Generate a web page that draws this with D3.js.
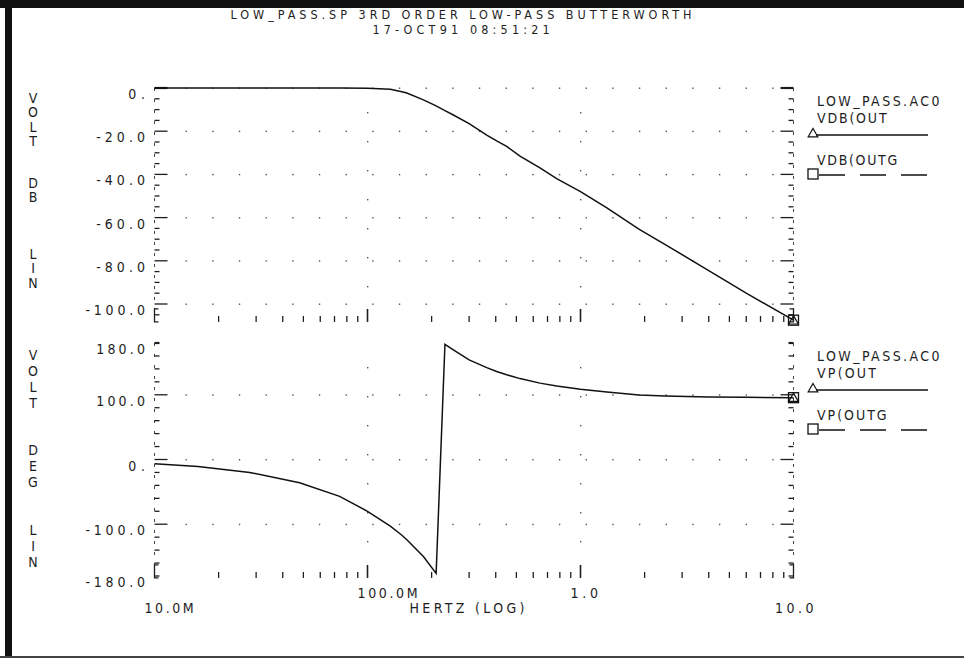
<!DOCTYPE html>
<html>
<head>
<meta charset="utf-8">
<script src="https://cdn.jsdelivr.net/npm/d3@7"></script>
<style>
	html, body { margin: 0; padding: 0; background: #fff; }
	#canvas { width: 964px; height: 658px; overflow: hidden; }
	text {
		font-family: 'Liberation Sans Narrow', 'DejaVu Sans Condensed', 'Roboto', sans-serif;
		font-size: 14px;
		fill: #1e1e1e;
	}
	text.title { font-size: 12.5px; }
</style>
</head>
<body>
<div id="canvas"></div>
<script>
// values (frequency in Hz, log axis)
const freqHz = [0.01, 0.016, 0.028, 0.048, 0.074, 0.1, 0.128, 0.145, 0.153, 0.183, 0.21, 0.231, 0.253, 0.3, 0.363, 0.404, 0.45, 0.52, 0.645, 0.773, 1.0, 1.33, 1.88, 2.5, 4.0, 6.0, 10.0];
const vdbOut = [0, 0, 0, 0, 0, -0.1, -0.6, -1.7, -2.3, -5.5, -8.3, -10.5, -12.5, -16.5, -21.8, -24.5, -27, -31.5, -37, -42, -48, -55.5, -65.3, -72.5, -84.5, -95, -107.5];
const vpOut = [-6.7, -11, -20, -36, -57, -80, -103, -117, -124, -150, -176, 178, 169.5, 154, 142, 136, 131, 125, 118, 113.6, 108.5, 104.3, 99.7, 98, 96.5, 96, 95.5];

const dbTicks = [0, -20, -40, -60, -80, -100];
const dbTickLabels = ['0.', '-20.0', '-40.0', '-60.0', '-80.0', '-100.0'];
const degTicks = [180, 100, 0, -100, -180];
const degTickLabels = ['180.0', '100.0', '0.', '-100.0', '-180.0'];
const freqTicks = [0.01, 0.1, 1, 10];
const freqTickLabels = ['10.0M', '100.0M', '1.0', '10.0'];

const titleLines = ['LOW_PASS.SP 3RD ORDER LOW-PASS BUTTERWORTH', '17-OCT91 08:51:21'];
const xTitle = 'HERTZ (LOG)';
const dbAxisWords = ['VOLT', 'DB', 'LIN'];
const degAxisWords = ['VOLT', 'DEG', 'LIN'];
const legendTitle = 'LOW_PASS.AC0';
const dbLegend = ['VDB(OUT', 'VDB(OUTG'];
const degLegend = ['VP(OUT', 'VP(OUTG'];

const chart = {
	width: 964,
	height: 658,
	x0: 154.5,
	x1: 793.5,
};

const x = d3.scaleLog().domain([0.01, 10]).range([chart.x0, chart.x1]);

const panels = [
	{
		key: 'db',
		y: d3.scaleLinear().domain([0, -100]).range([88, 304]),
		floor: -108.3,
		ticks: dbTicks,
		labels: dbTickLabels,
		minorStep: 5,
		values: vdbOut,
		words: dbAxisWords,
		wordPos: [98, 183, 254],
		wordPitch: 14.3,
		legend: dbLegend,
	},
	{
		key: 'deg',
		y: d3.scaleLinear().domain([180, -180]).range([343, 576]),
		floor: -183,
		ticks: degTicks,
		labels: degTickLabels,
		minorStep: 20,
		values: vpOut,
		words: degAxisWords,
		wordPos: [355, 450, 530],
		wordPitch: 16,
		legend: degLegend,
	},
];

// plotter style text: fixed character pitch
function pitched(sel, str, pitch) {
	sel.text(str)
		.attr('textLength', (str.length - 1) * pitch + 6)
		.attr('lengthAdjust', 'spacing')
		.attr('dy', '0.36em');
	return sel;
}

const svg = d3.select('#canvas').append('svg')
	.attr('width', chart.width)
	.attr('height', chart.height);

// page frame (scanned sheet edges)
svg.append('rect').attr('x', 0).attr('y', 0).attr('width', chart.width).attr('height', 8).attr('fill', '#111');
svg.append('rect').attr('x', 5).attr('y', 0).attr('width', 7).attr('height', chart.height).attr('fill', '#111');
svg.append('rect').attr('x', 0).attr('y', 656).attr('width', chart.width).attr('height', 2).attr('fill', '#444');

// titles
titleLines.forEach((t, i) => {
	svg.append('text')
		.attr('class', 'title')
		.attr('x', 461)
		.attr('y', i === 0 ? 14 : 29.5)
		.attr('text-anchor', 'middle')
		.call(pitched, t, i === 0 ? 11.1 : 10.7);
});

const line = d3.line().x(d => x(d[0]));

panels.forEach(p => {
	const g = svg.append('g').attr('id', p.key);
	const { y } = p;
	const top = y(p.ticks[0]);
	const bottom = y(p.floor);
	const minor = d3.range(p.ticks[0], p.floor, -p.minorStep);
	const isMajor = v => p.ticks.includes(v) && v !== 180 && v !== -180;

	// grid dots on major rows
	const rowVals = p.ticks.filter(v => v !== 180 && v !== -180);
	const dotXs = d3.range(chart.x0 + 31, chart.x1 - 8, 26.67);
	rowVals.forEach(v => {
		g.append('g').selectAll('rect')
			.data(dotXs)
			.join('rect')
			.attr('x', d => d)
			.attr('y', y(v) - 0.5)
			.attr('width', 1.4)
			.attr('height', 1.4)
			.attr('fill', '#555');
	});
	// dotted decade columns
	[0.1, 1].forEach(f => {
		g.append('g').selectAll('rect')
			.data(d3.range(top + 24, bottom - 12, 29))
			.join('rect')
			.attr('x', x(f) - 0.5)
			.attr('y', d => d)
			.attr('width', 1.4)
			.attr('height', 1.4)
			.attr('fill', '#555');
	});

	// y axes: dashed spine with inward ticks on both sides
	[chart.x0, chart.x1].forEach((ax, side) => {
		const dir = side === 0 ? 1 : -1;
		g.append('line')
			.attr('x1', ax).attr('x2', ax)
			.attr('y1', top).attr('y2', bottom - 13)
			.attr('stroke', '#444')
			.attr('stroke-width', 1)
			.attr('stroke-dasharray', '3,8');
		g.append('g').selectAll('line')
			.data(minor)
			.join('line')
			.attr('x1', ax)
			.attr('x2', d => ax + dir * (isMajor(d) ? 13 : 5))
			.attr('y1', d => y(d))
			.attr('y2', d => y(d))
			.attr('stroke', '#1e1e1e')
			.attr('stroke-width', d => (d === p.ticks[0] ? 2.2 : 1.3));
	});

	// y tick labels
	g.append('g').selectAll('text')
		.data(p.ticks)
		.join('text')
		.attr('x', 145)
		.attr('y', d => y(d) + 6)
		.attr('text-anchor', 'end')
		.each(function (d, i) {
			pitched(d3.select(this), p.labels[i], 10.7);
		});

	// x ticks along the bottom of each panel
	const minorX = [0.01, 0.1, 1].flatMap(d => d3.range(2, 10).map(m => d * m));
	g.append('g').selectAll('line')
		.data(minorX)
		.join('line')
		.attr('x1', d => x(d)).attr('x2', d => x(d))
		.attr('y1', bottom).attr('y2', bottom - 6)
		.attr('stroke', '#1e1e1e')
		.attr('stroke-width', 1.3);
	g.append('g').selectAll('line')
		.data([0.1, 1])
		.join('line')
		.attr('x1', d => x(d)).attr('x2', d => x(d))
		.attr('y1', bottom).attr('y2', bottom - 13)
		.attr('stroke', '#1e1e1e')
		.attr('stroke-width', 1.6);
	// end brackets [ ]
	[[0.01, 1], [10, -1]].forEach(([f, dir]) => {
		const bx = x(f);
		g.append('path')
			.attr('d', `M${bx + dir * 4},${bottom - 13}H${bx}V${bottom}H${bx + dir * 4}`)
			.attr('fill', 'none')
			.attr('stroke', '#1e1e1e')
			.attr('stroke-width', 1.3);
	});

	// stacked axis words
	p.words.forEach((w, wi) => {
		const t = g.append('text').attr('text-anchor', 'middle');
		w.split('').forEach((ch, ci) => {
			t.append('tspan')
				.attr('x', 33)
				.attr('y', p.wordPos[wi] + ci * p.wordPitch)
				.attr('dy', '0.36em')
				.text(ch);
		});
	});

	// curve
	const pts = freqHz.map((f, i) => [f, p.values[i]]);
	g.append('path')
		.datum(pts)
		.attr('d', line.y(d => y(d[1])))
		.attr('fill', 'none')
		.attr('stroke', '#111')
		.attr('stroke-width', 1.5);

	// end markers: square (OUTG) + triangle (OUT)
	const last = pts[pts.length - 1];
	const mx = x(last[0]);
	const my = y(last[1]);
	g.append('rect')
		.attr('x', mx - 5).attr('y', my - 5)
		.attr('width', 10).attr('height', 10)
		.attr('fill', 'none').attr('stroke', '#111').attr('stroke-width', 1.3);
	g.append('path')
		.attr('d', d3.symbol(d3.symbolTriangle, 40)())
		.attr('transform', `translate(${mx},${my + 1})`)
		.attr('fill', 'none').attr('stroke', '#111').attr('stroke-width', 1.2);

	// legend
	const lx = 817;
	g.append('text').attr('x', lx).attr('y', top + 13).call(pitched, legendTitle, 10.6);
	g.append('text').attr('x', lx).attr('y', top + 30).call(pitched, p.legend[0], 10.6);
	g.append('path')
		.attr('d', d3.symbol(d3.symbolTriangle, 40)())
		.attr('transform', `translate(813,${top + 46})`)
		.attr('fill', '#fff').attr('stroke', '#111').attr('stroke-width', 1.2);
	g.append('line')
		.attr('x1', 816).attr('x2', 928)
		.attr('y1', top + 47).attr('y2', top + 47)
		.attr('stroke', '#111').attr('stroke-width', 1.3);
	g.append('text').attr('x', lx).attr('y', top + 72).call(pitched, p.legend[1], 10.6);
	g.append('rect')
		.attr('x', 808).attr('y', top + 81)
		.attr('width', 10).attr('height', 10)
		.attr('fill', '#fff').attr('stroke', '#111').attr('stroke-width', 1.3);
	g.append('line')
		.attr('x1', 819).attr('x2', 928)
		.attr('y1', top + 87).attr('y2', top + 87)
		.attr('stroke', '#111').attr('stroke-width', 1.3)
		.attr('stroke-dasharray', '26,15');
});

// x tick labels (first row: inner decades, second row: ends + axis title)
const xl = svg.append('g').attr('id', 'xLabels');
freqTicks.forEach((f, i) => {
	const last = i === freqTicks.length - 1;
	const inner = i > 0 && !last;
	xl.append('text')
		.attr('x', last ? x(f) + 20 : x(f) - 10)
		.attr('y', inner ? 593 : 608)
		.attr('text-anchor', last ? 'end' : 'start')
		.call(pitched, freqTickLabels[i], 10.8);
});
xl.append('text')
	.attr('x', 467)
	.attr('y', 608)
	.attr('text-anchor', 'middle')
	.call(pitched, xTitle, 10.9);
</script>
</body>
</html>
